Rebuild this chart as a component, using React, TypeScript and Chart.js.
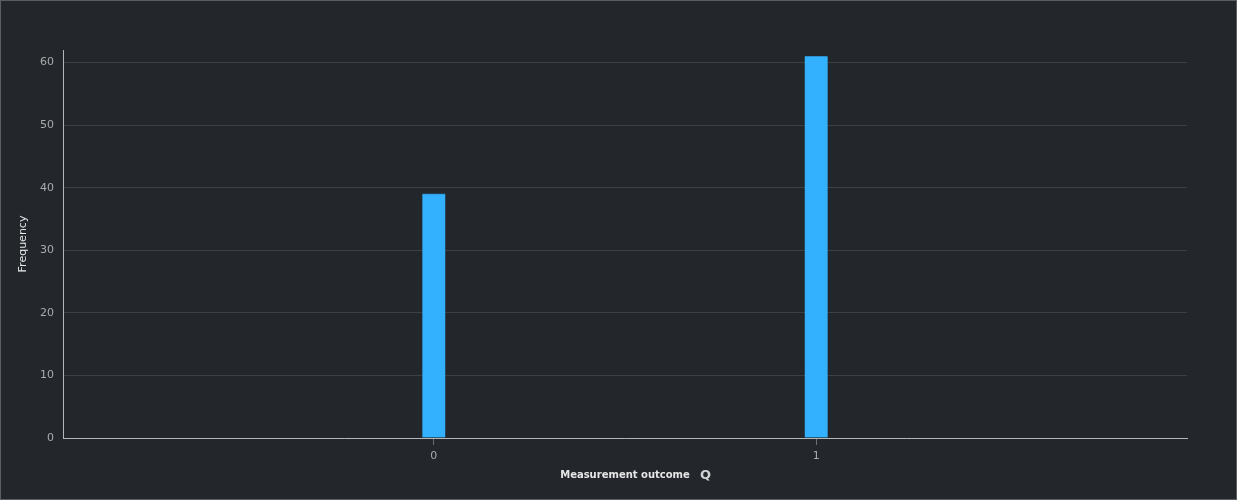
import React, { useEffect, useRef } from "react";
import { Chart, registerables } from "chart.js";

Chart.register(...registerables);

const outcomes = [0, 1];
const frequencies = [39, 61];
const xTickValues = [0, 1];
const yTickStep = 10;

const BG = "#23272b";
const FONT = "'DejaVu Sans', Verdana, sans-serif";

export default function App() {
  const ref = useRef<HTMLCanvasElement | null>(null);

  useEffect(() => {
    document.body.style.margin = "0";
    const canvas = ref.current;
    if (!canvas) return;
    const chart = new Chart(canvas, {
      type: "bar",
      data: {
        datasets: [
          {
            label: "Frequency",
            data: outcomes.map((o, i) => ({ x: o, y: frequencies[i] })),
            backgroundColor: "#33b1ff",
            borderColor: "#2b8fd0",
            borderWidth: { top: 1, left: 0, right: 0, bottom: 0 },
            borderSkipped: "bottom",
            barThickness: 23,
          },
        ],
      },
      options: {
        animation: false,
        responsive: false,
        maintainAspectRatio: false,
        layout: { padding: { top: 49, right: 49, left: 0, bottom: 0 } },
        plugins: {
          legend: { display: false },
          tooltip: { enabled: false },
        },
        scales: {
          x: {
            type: "linear",
            offset: false,
            min: -0.97,
            max: 1.97,
            afterBuildTicks: (axis: any) => {
              axis.ticks = xTickValues.map((v) => ({ value: v }));
            },
            afterFit: (s: any) => {
              s.height = 61;
            },
            ticks: {
              includeBounds: false,
              color: "#a9abad",
              font: { family: FONT, size: 11 },
              padding: 5,
              maxRotation: 0,
              autoSkip: false,
              callback: (v: any) => String(v),
            },
            grid: {
              offset: false,
              drawOnChartArea: false,
              drawTicks: true,
              tickLength: 7,
              color: "#6a6e72",
            },
            border: { display: true, color: "#b4b6b8", width: 1 },
            title: {
              display: true,
              text: "Measurement outcome",
              color: "#e6e6e6",
              font: { family: FONT, size: 10, weight: "bold" },
              padding: { top: 0, bottom: 18 },
            },
          },
          y: {
            min: 0,
            max: 62,
            afterFit: (s: any) => {
              s.width = 62;
            },
            ticks: {
              stepSize: yTickStep,
              includeBounds: false,
              color: "#a9abad",
              font: { family: FONT, size: 11 },
              padding: 9,
            },
            grid: {
              drawTicks: false,
              color: "#3b4045",
              lineWidth: 1,
            },
            border: { display: true, color: "#b4b6b8", width: 1 },
            title: {
              display: true,
              text: "Frequency",
              color: "#e6e6e6",
              font: { family: FONT, size: 11 },
              padding: { top: 16, bottom: 0 },
            },
          },
        },
      },
    });
    return () => chart.destroy();
  }, []);

  return (
    <div
      style={{
        position: "relative",
        width: 1237,
        height: 500,
        boxSizing: "border-box",
        border: "1px solid #5b5f63",
        background: BG,
      }}
    >
      <canvas ref={ref} width={1235} height={498} style={{ display: "block" }} />
      <span
        style={{
          position: "absolute",
          left: 699,
          top: 466,
          color: "#d0d2d4",
          fontFamily: FONT,
          fontWeight: "bold",
          fontSize: 13,
          lineHeight: "16px",
        }}
      >
        Q
      </span>
    </div>
  );
}
